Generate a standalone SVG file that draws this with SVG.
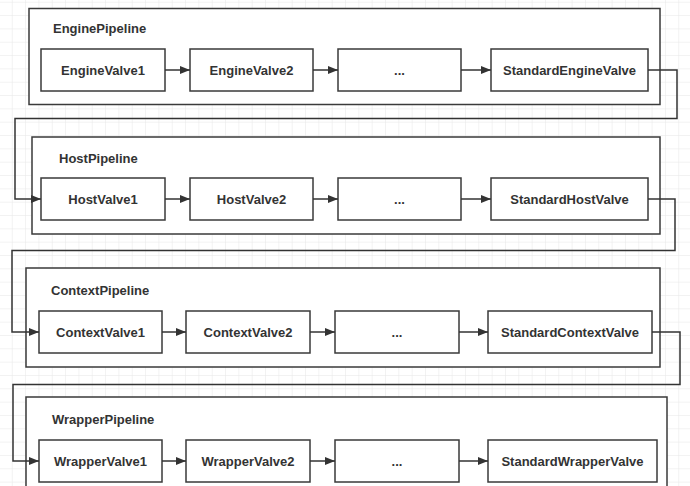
<svg xmlns="http://www.w3.org/2000/svg" width="690" height="486" viewBox="0 0 690 486">
  <defs>
    <pattern id="grid" x="-0.6" y="2.7" width="13.33" height="13.33" patternUnits="userSpaceOnUse">
      <path d="M13.33 0 V13.33 M0 13.33 H13.33" fill="none" stroke="#e6e6e6" stroke-width="1"/>
    </pattern>
    <marker id="arr" viewBox="0 0 10 8" refX="10" refY="4" markerWidth="10" markerHeight="8" markerUnits="userSpaceOnUse" orient="auto">
      <path d="M0 0 L10 4 L0 8 Z" fill="#333"/>
    </marker>
  </defs>
  <style>
    .pipe { fill: #fff; stroke: #3a3a3a; stroke-width: 1.5; }
    .valve { fill: #fff; stroke: #3a3a3a; stroke-width: 1.5; }
    .lbl { font-family: "Liberation Sans", Arial, sans-serif; font-weight: bold; font-size: 13px; fill: #333; }
    .vt { font-family: "Liberation Sans", Arial, sans-serif; font-weight: bold; font-size: 13px; fill: #333; text-anchor: middle; }
    .conn { fill: none; stroke: #333; stroke-width: 1.5; }
  </style>
  <rect width="690" height="486" fill="#fff"/>
  <rect width="690" height="486" fill="url(#grid)"/>

  <g id="EnginePipeline">
    <rect class="pipe" x="29" y="8.5" width="631" height="96"/>
    <text class="lbl" x="53" y="33">EnginePipeline</text>
  </g>
  <g id="EngineValve1"><rect class="valve" x="41" y="49" width="124" height="42"/><text class="vt" x="103" y="74.5">EngineValve1</text></g>
  <g id="EngineValve2"><rect class="valve" x="190" y="49" width="123" height="42"/><text class="vt" x="251.5" y="74.5">EngineValve2</text></g>
  <g id="EngineDots"><rect class="valve" x="338" y="49" width="123" height="42"/><text class="vt" x="399.5" y="74.5">...</text></g>
  <g id="StandardEngineValve"><rect class="valve" x="491" y="49" width="157" height="42"/><text class="vt" x="569.5" y="74.5">StandardEngineValve</text></g>

  <g id="HostPipeline">
    <rect class="pipe" x="32" y="137" width="628" height="97"/>
    <text class="lbl" x="59" y="162.5">HostPipeline</text>
  </g>
  <g id="HostValve1"><rect class="valve" x="41" y="178" width="124" height="42"/><text class="vt" x="103" y="203.5">HostValve1</text></g>
  <g id="HostValve2"><rect class="valve" x="190" y="178" width="123" height="42"/><text class="vt" x="251.5" y="203.5">HostValve2</text></g>
  <g id="HostDots"><rect class="valve" x="338" y="178" width="123" height="42"/><text class="vt" x="399.5" y="203.5">...</text></g>
  <g id="StandardHostValve"><rect class="valve" x="491" y="178" width="157" height="42"/><text class="vt" x="569.5" y="203.5">StandardHostValve</text></g>

  <g id="ContextPipeline">
    <rect class="pipe" x="26" y="268" width="634" height="99"/>
    <text class="lbl" x="51" y="294.5">ContextPipeline</text>
  </g>
  <g id="ContextValve1"><rect class="valve" x="39" y="311" width="123" height="42"/><text class="vt" x="100.5" y="336.5">ContextValve1</text></g>
  <g id="ContextValve2"><rect class="valve" x="186" y="311" width="124" height="42"/><text class="vt" x="248" y="336.5">ContextValve2</text></g>
  <g id="ContextDots"><rect class="valve" x="335" y="311" width="124" height="42"/><text class="vt" x="397" y="336.5">...</text></g>
  <g id="StandardContextValve"><rect class="valve" x="488" y="311" width="164" height="42"/><text class="vt" x="570" y="336.5">StandardContextValve</text></g>

  <g id="WrapperPipeline">
    <rect class="pipe" x="26" y="397" width="641" height="100"/>
    <text class="lbl" x="52" y="423.5">WrapperPipeline</text>
  </g>
  <g id="WrapperValve1"><rect class="valve" x="39" y="440" width="123" height="42"/><text class="vt" x="100.5" y="465.5">WrapperValve1</text></g>
  <g id="WrapperValve2"><rect class="valve" x="186" y="440" width="124" height="42"/><text class="vt" x="248" y="465.5">WrapperValve2</text></g>
  <g id="WrapperDots"><rect class="valve" x="335" y="440" width="124" height="42"/><text class="vt" x="397" y="465.5">...</text></g>
  <g id="StandardWrapperValve"><rect class="valve" x="488" y="440" width="169" height="42"/><text class="vt" x="572.5" y="465.5">StandardWrapperValve</text></g>

  <g id="connectors">
    <path class="conn" d="M165 70 H190" marker-end="url(#arr)"/>
    <path class="conn" d="M313 70 H338" marker-end="url(#arr)"/>
    <path class="conn" d="M461 70 H491" marker-end="url(#arr)"/>
    <path class="conn" d="M648 70 H677 V118.5 H15 V199 H41" marker-end="url(#arr)"/>

    <path class="conn" d="M165 199 H190" marker-end="url(#arr)"/>
    <path class="conn" d="M313 199 H338" marker-end="url(#arr)"/>
    <path class="conn" d="M461 199 H491" marker-end="url(#arr)"/>
    <path class="conn" d="M648 199 H675 V250.5 H12 V332 H39" marker-end="url(#arr)"/>

    <path class="conn" d="M162 332 H186" marker-end="url(#arr)"/>
    <path class="conn" d="M310 332 H335" marker-end="url(#arr)"/>
    <path class="conn" d="M459 332 H488" marker-end="url(#arr)"/>
    <path class="conn" d="M652 332 H680 V384.5 H13 V461 H39" marker-end="url(#arr)"/>

    <path class="conn" d="M162 461 H186" marker-end="url(#arr)"/>
    <path class="conn" d="M310 461 H335" marker-end="url(#arr)"/>
    <path class="conn" d="M459 461 H488" marker-end="url(#arr)"/>
  </g>
</svg>
